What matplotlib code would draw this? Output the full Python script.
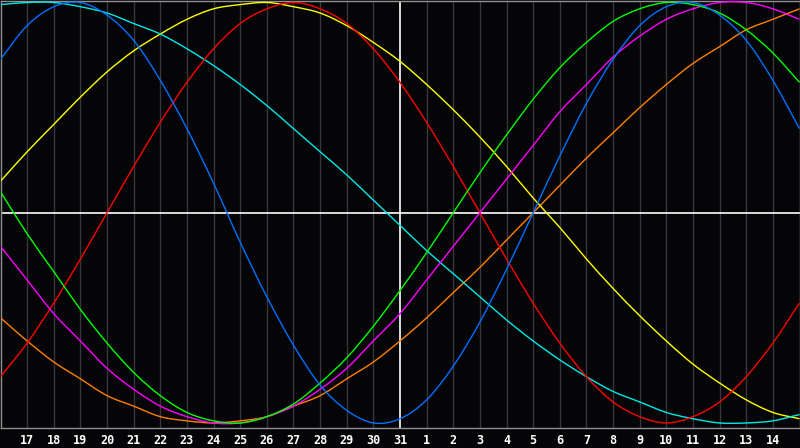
import matplotlib
matplotlib.use("Agg")
import matplotlib.pyplot as plt
from matplotlib.path import Path
from matplotlib.patches import PathPatch
import numpy as np

# Days shown across the chart (sample points, one per day)
days = [16, 17, 18, 19, 20, 21, 22, 23, 24, 25, 26, 27, 28, 29, 30, 31,
        1, 2, 3, 4, 5, 6, 7, 8, 9, 10, 11, 12, 13, 14, 15]

# Cycle values (range -1 .. 1), one per day
blue = [0.73, 0.89, 0.98, 1.00, 0.94, 0.82, 0.63, 0.40, 0.14, -0.14, -0.40,
        -0.63, -0.82, -0.94, -1.00, -0.98, -0.89, -0.73, -0.52, -0.27, 0.00,
        0.27, 0.52, 0.73, 0.89, 0.98, 1.00, 0.94, 0.82, 0.63, 0.40]
red = [-0.78, -0.62, -0.43, -0.22, 0.00, 0.22, 0.43, 0.62, 0.78, 0.90, 0.97,
       1.00, 0.97, 0.90, 0.78, 0.62, 0.43, 0.22, 0.00, -0.22, -0.43, -0.62,
       -0.78, -0.90, -0.97, -1.00, -0.97, -0.90, -0.78, -0.62, -0.43]
green = [0.10, -0.10, -0.28, -0.46, -0.62, -0.76, -0.87, -0.95, -0.99, -1.00,
         -0.97, -0.91, -0.81, -0.69, -0.54, -0.37, -0.19, 0.00, 0.19, 0.37,
         0.54, 0.69, 0.81, 0.91, 0.97, 1.00, 0.99, 0.95, 0.87, 0.76, 0.62]
magenta = [-0.16, -0.32, -0.48, -0.61, -0.74, -0.84, -0.92, -0.97, -1.00,
           -1.00, -0.97, -0.92, -0.84, -0.74, -0.61, -0.48, -0.32, -0.16,
           0.00, 0.16, 0.32, 0.48, 0.61, 0.74, 0.84, 0.92, 0.97, 1.00, 1.00,
           0.97, 0.92]
yellow = [0.15, 0.29, 0.42, 0.55, 0.67, 0.77, 0.85, 0.92, 0.97, 0.99, 1.00,
          0.98, 0.95, 0.89, 0.81, 0.72, 0.61, 0.49, 0.36, 0.22, 0.07, -0.07,
          -0.22, -0.36, -0.49, -0.61, -0.72, -0.81, -0.89, -0.95, -0.98]
orange = [-0.50, -0.61, -0.71, -0.79, -0.87, -0.92, -0.97, -0.99, -1.00,
          -0.99, -0.97, -0.92, -0.87, -0.79, -0.71, -0.61, -0.50, -0.38,
          -0.26, -0.13, 0.00, 0.13, 0.26, 0.38, 0.50, 0.61, 0.71, 0.79, 0.87,
          0.92, 0.97]
cyan = [0.99, 1.00, 1.00, 0.98, 0.95, 0.90, 0.85, 0.78, 0.70, 0.61, 0.51,
        0.40, 0.29, 0.18, 0.06, -0.06, -0.18, -0.29, -0.40, -0.51, -0.61,
        -0.70, -0.78, -0.85, -0.90, -0.95, -0.98, -1.00, -1.00, -0.99, -0.96]

series = [
    (orange, "#ff8000"),
    (yellow, "#ffff00"),
    (cyan, "#00e8e8"),
    (red, "#ff0000"),
    (magenta, "#ff00ff"),
    (green, "#00ff00"),
    (blue, "#0070ff"),
]

BG = "#050508"
W, H = 800, 448
PLOT_H = 428


def smooth_path(xs, ys):
    """Smooth curve through the data points (Catmull-Rom drawn as Bezier)."""
    p = np.column_stack([xs, ys]).astype(float)
    ext = np.vstack([2 * p[0] - p[1], p, 2 * p[-1] - p[-2]])
    verts = [p[0]]
    codes = [Path.MOVETO]
    for i in range(1, len(ext) - 2):
        p0, p1, p2, p3 = ext[i - 1], ext[i], ext[i + 1], ext[i + 2]
        verts += [p1 + (p2 - p0) / 6.0, p2 - (p3 - p1) / 6.0, p2]
        codes += [Path.CURVE4] * 3
    return Path(verts, codes)


fig = plt.figure(figsize=(W / 100, H / 100), dpi=100, facecolor=BG)
ax = fig.add_axes([0.5 / W, (H - PLOT_H) / H, (W - 1) / W, (PLOT_H - 0.5) / H])
ax.set_facecolor(BG)

x = np.arange(len(days))
ax.set_xlim(x[0], x[-1])
ax.set_ylim(-1.024, 1.0095)

# day grid lines
center_idx = days.index(31)
for i in x[1:-1]:
    if i == center_idx:
        continue
    ax.axvline(i, color="#38383c", lw=1.0, zorder=1)
ax.axvline(center_idx, color="white", lw=1.2, zorder=2)
ax.axhline(0, color="white", lw=1.2, zorder=2)

for vals, col in series:
    ax.add_patch(PathPatch(smooth_path(x, vals), fill=False, edgecolor=col,
                           lw=1.0, zorder=3))

ax.set_xticks(x[1:-1])
ax.set_xticklabels([str(d) for d in days[1:-1]], family="DejaVu Sans Mono",
                   fontweight="bold", fontsize=8.5, color="white")
ax.tick_params(axis="x", length=0, pad=4.5)
ax.set_yticks([])
for s in ax.spines.values():
    s.set_color("#909090")
    s.set_linewidth(1.0)

fig.savefig("out.png", dpi=100, facecolor=BG)
